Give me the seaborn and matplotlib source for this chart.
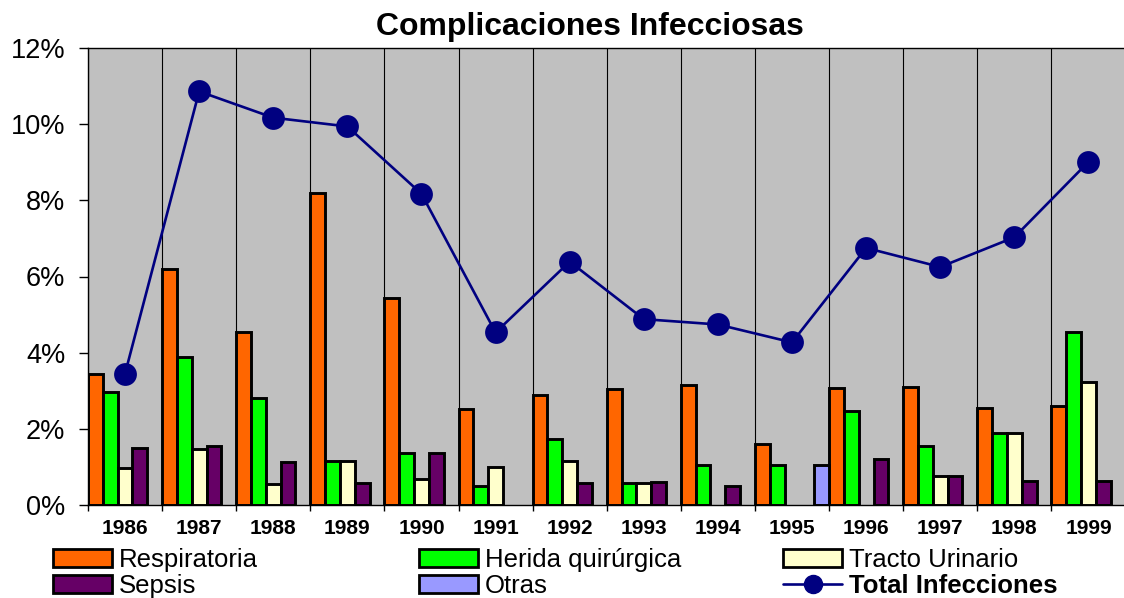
import numpy as np
import pandas as pd
import matplotlib
matplotlib.use("Agg")
import matplotlib.pyplot as plt
from matplotlib.patches import Patch
from matplotlib.lines import Line2D
from matplotlib.ticker import FuncFormatter
import seaborn as sns

# ---------------- data (percent) ----------------
years = ["1986", "1987", "1988", "1989", "1990", "1991", "1992",
         "1993", "1994", "1995", "1996", "1997", "1998", "1999"]
nan = np.nan
respiratoria = [3.43, 6.19, 4.53, 8.18, 5.44, 2.52, 2.90, 3.05, 3.16, 1.60, 3.06, 3.11, 2.54, 2.60]
herida = [2.98, 3.88, 2.82, 1.16, 1.36, 0.50, 1.73, 0.58, 1.05, 1.06, 2.46, 1.55, 1.90, 4.53]
tracto = [0.98, 1.47, 0.55, 1.16, 0.67, 1.01, 1.16, 0.58, nan, nan, nan, 0.77, 1.90, 3.23]
sepsis = [1.50, 1.54, 1.13, 0.59, 1.36, nan, 0.58, 0.61, 0.51, nan, 1.22, 0.77, 0.64, 0.64]
otras = [nan, nan, nan, nan, nan, nan, nan, nan, nan, 1.04, nan, nan, nan, nan]
total = [3.45, 10.86, 10.17, 9.94, 8.17, 4.53, 6.39, 4.88, 4.74, 4.27, 6.75, 6.25, 7.03, 9.01]

series_names = ["Respiratoria", "Herida quirúrgica", "Tracto Urinario", "Sepsis", "Otras"]
series_colors = ["#FF6600", "#00FF00", "#FFFFCC", "#660066", "#9999FF"]
line_name = "Total Infecciones"
line_color = "#000080"
y_ticks = [0, 2, 4, 6, 8, 10, 12]

# ---------------- style ----------------
sns.set_theme(style="ticks")
plt.rcParams["font.family"] = ["Liberation Sans", "DejaVu Sans"]
plt.rcParams["text.color"] = "black"
plt.rcParams["xtick.color"] = "black"
plt.rcParams["ytick.color"] = "black"
plt.rcParams["axes.labelcolor"] = "black"

W, H = 1124, 598
fig = plt.figure(figsize=(W / 100, H / 100), dpi=100)
ax = fig.add_axes([88 / W, 93 / H, 1037.5 / W, 457 / H])
ax.set_facecolor("#C0C0C0")

df = pd.DataFrame({"Año": years,
                   series_names[0]: respiratoria,
                   series_names[1]: herida,
                   series_names[2]: tracto,
                   series_names[3]: sepsis,
                   series_names[4]: otras})
long = df.melt(id_vars="Año", var_name="Tipo", value_name="Valor").dropna()

sns.barplot(data=long, x="Año", y="Valor", hue="Tipo", order=years,
            hue_order=series_names, palette=dict(zip(series_names, series_colors)),
            width=1.0, gap=0, dodge=True, saturation=1, errorbar=None,
            edgecolor="black", linewidth=2.1, legend=False, ax=ax, zorder=2)

sns.pointplot(x=years, y=total, order=years, ax=ax, color=line_color,
              markers="o", markersize=15, linewidth=1.9, zorder=4)

ax.set_xlim(-0.5, len(years) - 0.5)
ax.set_ylim(0, 12)
ax.set_yticks(y_ticks)
ax.yaxis.set_major_formatter(FuncFormatter(lambda v, p: f"{v:.0f}%"))
ax.set_xlabel("")
ax.set_ylabel("")

ax.set_xticks(range(len(years)))
ax.set_xticklabels(years, fontsize=15, fontweight="bold", color="black")
ax.set_xticks(np.arange(-0.5, len(years), 1.0), minor=True)
ax.tick_params(axis="x", which="major", length=0, pad=10, labelcolor="black")
ax.tick_params(axis="x", which="minor", length=4.5, width=1, color="black", direction="out")
ax.tick_params(axis="y", which="major", length=6.3, width=1, color="black",
               direction="out", labelsize=19.5, pad=10, labelcolor="black")
ax.grid(which="minor", axis="x", color="black", linewidth=0.8)
ax.set_axisbelow(True)

for s in ["left", "bottom", "top"]:
    ax.spines[s].set_color("black")
    ax.spines[s].set_linewidth(1)
ax.spines["right"].set_visible(False)

fig.text(590 / W, 1 - 35 / H, "Complicaciones Infecciosas", ha="center",
         va="baseline", fontsize=23, fontweight="bold", color="black")

# ---------------- legends ----------------
def patch(c):
    return Patch(facecolor=c, edgecolor="black", linewidth=2)

line_handle = Line2D([], [], color=line_color, marker="o", markersize=13, linewidth=1.9)

groups = [
    ([patch(series_colors[0]), patch(series_colors[3])], [series_names[0], series_names[3]], 53),
    ([patch(series_colors[1]), patch(series_colors[4])], [series_names[1], series_names[4]], 419),
    ([patch(series_colors[2]), line_handle], [series_names[2], line_name], 783),
]
for handles, labels, xpx in groups:
    leg = fig.legend(handles, labels, loc="upper left",
                     bbox_to_anchor=(xpx / W, 1 - 548 / H), frameon=False,
                     fontsize=18.5, handlelength=2.3, handleheight=0.69,
                     handletextpad=0.25, labelspacing=0.07, borderpad=0,
                     borderaxespad=0, labelcolor="black")
    if labels[1] == line_name:
        leg.get_texts()[1].set_fontweight("bold")

fig.savefig("out.png", dpi=100)
